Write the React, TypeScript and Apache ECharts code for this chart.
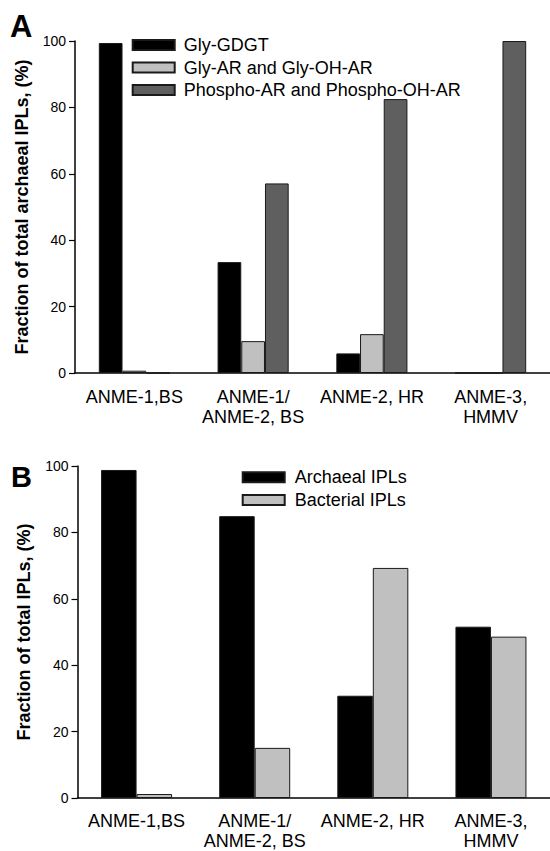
import React, { useEffect, useRef } from "react";
import * as echarts from "echarts";

const categories = ["ANME-1,BS", "ANME-1/\nANME-2, BS", "ANME-2, HR", "ANME-3,\nHMMV"];

const seriesANames = ["Gly-GDGT", "Gly-AR and Gly-OH-AR", "Phospho-AR and Phospho-OH-AR"];
const glyGDGT = [99.4, 33.4, 5.9, 0];
const glyAR = [0.7, 9.6, 11.7, 0];
const phosphoAR = [0, 57.1, 82.5, 100];

const seriesBNames = ["Archaeal IPLs", "Bacterial IPLs"];
const archaealIPLs = [98.8, 84.9, 30.8, 51.6];
const bacterialIPLs = [1.2, 15.1, 69.3, 48.6];

const yTicks = [0, 20, 40, 60, 80, 100];

const FONT = "'Liberation Sans', Arial, Helvetica, sans-serif";

export default function App() {
  const ref = useRef<HTMLDivElement>(null);
  useEffect(() => {
    if (!ref.current) return;
    const chart = echarts.init(ref.current, null, { renderer: "svg" });
    const black = "#000000";
    const light = "#c0c0c0";
    const dark = "#5f5f5f";
    const border = "#1a1a1a";

    const xAxisCommon = (gridIndex: number, margin: number) => ({
      type: "category" as const,
      gridIndex,
      data: categories,
      axisLine: { lineStyle: { color: "#000", width: 1.5 } },
      axisTick: { alignWithLabel: true, length: 6, lineStyle: { color: "#000", width: 1.2 } },
      axisLabel: {
        color: "#000",
        fontFamily: FONT,
        fontSize: 18,
        lineHeight: 20,
        margin,
        interval: 0,
      },
    });
    const yAxisCommon = (gridIndex: number, name: string, nameGap: number) => ({
      type: "value" as const,
      gridIndex,
      min: yTicks[0],
      max: yTicks[yTicks.length - 1],
      interval: 20,
      name,
      nameLocation: "middle" as const,
      nameGap,
      nameTextStyle: { color: "#000", fontFamily: FONT, fontSize: 18, fontWeight: "bold" as const },
      splitLine: { show: false },
      axisLine: { show: true, lineStyle: { color: "#000", width: 1.5 } },
      axisTick: { show: true, inside: false, length: 6, lineStyle: { color: "#000", width: 1.2 } },
      axisLabel: { color: "#000", fontFamily: FONT, fontSize: 14, margin: 9 },
    });

    const barA = (name: string, data: number[], color: string) => ({
      type: "bar" as const,
      name,
      xAxisIndex: 0,
      yAxisIndex: 0,
      data,
      barWidth: 23.7,
      barGap: "0%",
      itemStyle: { color, borderColor: border, borderWidth: 1 },
    });
    const barB = (name: string, data: number[], color: string) => ({
      type: "bar" as const,
      name,
      xAxisIndex: 1,
      yAxisIndex: 1,
      data,
      barWidth: 35.5,
      barGap: "0%",
      itemStyle: { color, borderColor: border, borderWidth: 1 },
    });

    chart.setOption({
      animation: false,
      backgroundColor: "#ffffff",
      textStyle: { fontFamily: FONT },
      grid: [
        { left: 75, top: 41, width: 475, height: 332 },
        { left: 77.5, top: 466, width: 475, height: 333 },
      ],
      xAxis: [xAxisCommon(0, 14), xAxisCommon(1, 13)],
      yAxis: [
        yAxisCommon(0, "Fraction of total archaeal IPLs, (%)", 44),
        yAxisCommon(1, "Fraction of total IPLs, (%)", 45),
      ],
      legend: [
        {
          data: seriesANames,
          orient: "vertical",
          left: 131.7,
          top: 33.75,
          padding: 0,
          itemGap: 0,
          itemWidth: 42,
          itemHeight: 10,
          icon: "rect",
          selectedMode: false,
          textStyle: { color: "#000", fontFamily: FONT, fontSize: 18, lineHeight: 22.5, padding: [0, 0, 0, 4] },
        },
        {
          data: seriesBNames,
          orient: "vertical",
          left: 241.7,
          top: 466,
          padding: 0,
          itemGap: 0,
          itemWidth: 42,
          itemHeight: 10,
          icon: "rect",
          selectedMode: false,
          textStyle: { color: "#000", fontFamily: FONT, fontSize: 18, lineHeight: 22.7, padding: [0, 0, 0, 5] },
        },
      ],
      graphic: [
        {
          type: "text",
          left: 10,
          top: 11,
          style: { text: "A", fontFamily: FONT, fontSize: 31, fontWeight: "bold", fill: "#000" },
        },
        {
          type: "text",
          left: 11,
          top: 462,
          style: { text: "B", fontFamily: FONT, fontSize: 29, fontWeight: "bold", fill: "#000" },
        },
      ],
      series: [
        barA(seriesANames[0], glyGDGT, black),
        barA(seriesANames[1], glyAR, light),
        barA(seriesANames[2], phosphoAR, dark),
        barB(seriesBNames[0], archaealIPLs, black),
        barB(seriesBNames[1], bacterialIPLs, light),
      ],
    });
    return () => chart.dispose();
  }, []);
  return (
    <div
      ref={ref}
      style={{ position: "fixed", left: 0, top: 0, width: 550, height: 851, background: "#fff" }}
    />
  );
}
